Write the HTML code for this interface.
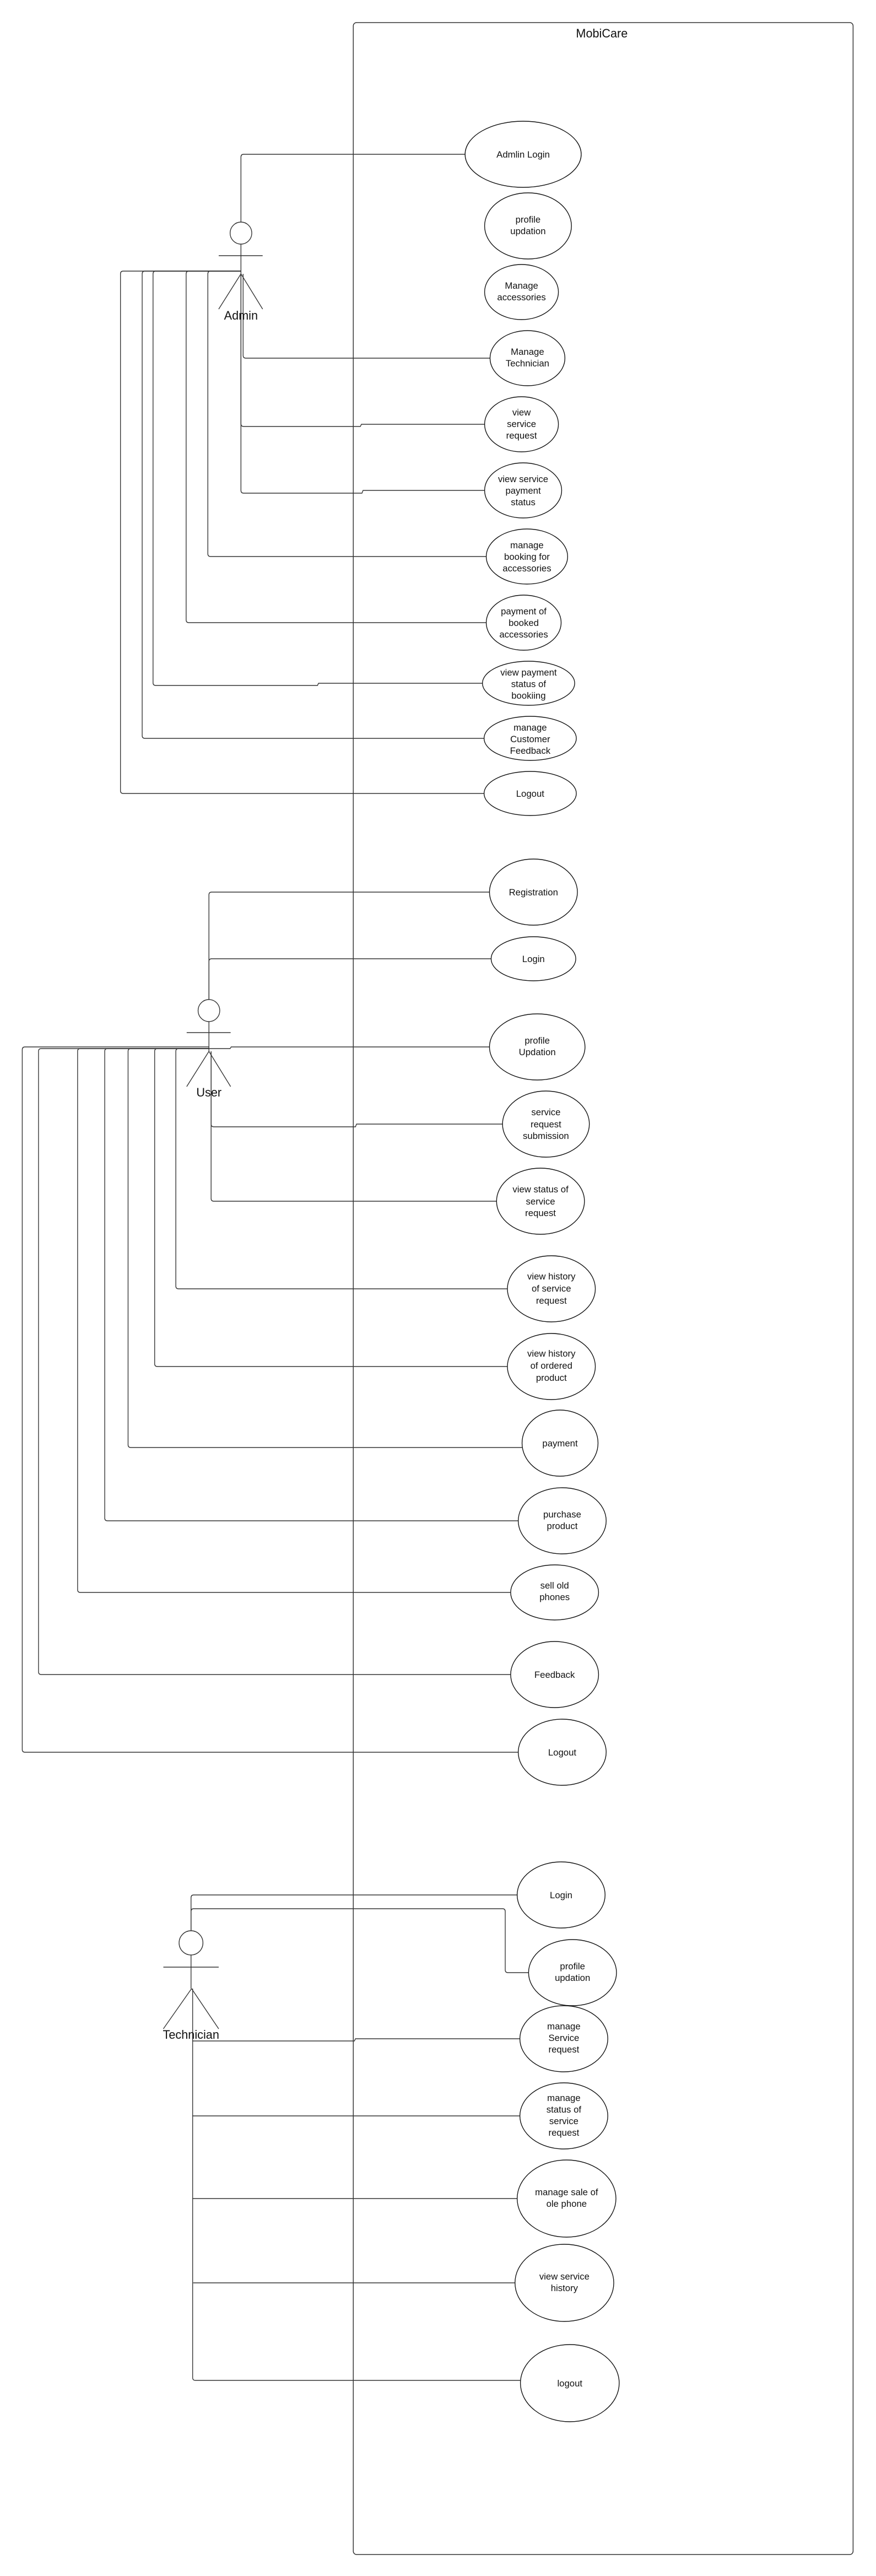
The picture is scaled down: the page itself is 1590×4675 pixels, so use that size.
<!DOCTYPE html>
<html><head><meta charset="utf-8"><style>
html,body{margin:0;padding:0;background:#fff;}
svg{display:block}
text{font-family:"Liberation Sans",sans-serif;font-size:17px;fill:#111;text-anchor:middle}
.t{font-size:22px}
</style></head><body>
<svg width="1590" height="4675" viewBox="0 0 1590 4675" xmlns="http://www.w3.org/2000/svg">
<g transform="scale(0.985 1)">
<rect x="651" y="41" width="921" height="4595" rx="6" fill="none" stroke="#333" stroke-width="1.5"/>
<text class="t" x="1109" y="68">MobiCare</text>

<g fill="none" stroke="#333" stroke-width="1.4">
<circle cx="444" cy="423" r="20"/>
<line x1="444" y1="443" x2="444" y2="497"/>
<line x1="403" y1="464" x2="484" y2="464"/>
<line x1="444" y1="497" x2="403" y2="561"/>
<line x1="444" y1="497" x2="484" y2="561"/>
<path d="M444 403 V285 Q444 280 449 280 H857"/>
<path d="M448 497 V645 Q448 650 453 650 H903"/>
<path d="M444 497 V769 Q444 774 449 774 H664 L666 770 H893"/>
<path d="M444 497 V890 Q444 895 449 895 H667 L669 890 H893"/>
<path d="M444 492 H388 Q383 492 383 497 V1005 Q383 1010 388 1010 H896"/>
<path d="M444 492 H348 Q343 492 343 497 V1125 Q343 1130 348 1130 H896"/>
<path d="M444 492 H287 Q282 492 282 497 V1239 Q282 1244 287 1244 H585 L587 1240 H889"/>
<path d="M444 492 H267 Q262 492 262 497 V1335 Q262 1340 267 1340 H892"/>
<path d="M444 492 H227 Q222 492 222 497 V1435 Q222 1440 227 1440 H892"/>

<circle cx="385" cy="1834" r="20"/>
<line x1="385" y1="1854" x2="385" y2="1908"/>
<line x1="344" y1="1874" x2="425" y2="1874"/>
<line x1="385" y1="1908" x2="344" y2="1972"/>
<line x1="385" y1="1908" x2="425" y2="1972"/>
<path d="M385 1814 V1624 Q385 1619 390 1619 H902"/>
<path d="M385 1814 V1745 Q385 1740 390 1740 H905"/>
<path d="M385 1903 H424 L426 1900 H902"/>
<path d="M389 1908 V2040 Q389 2045 394 2045 H655 L657 2040 H926"/>
<path d="M389 1908 V2175 Q389 2180 394 2180 H915"/>
<path d="M385 1903 H329 Q324 1903 324 1908 V2334 Q324 2339 329 2339 H935"/>
<path d="M385 1903 H290 Q285 1903 285 1908 V2475 Q285 2480 290 2480 H935"/>
<path d="M385 1903 H241 Q236 1903 236 1908 V2622 Q236 2627 241 2627 H962"/>
<path d="M385 1903 H198 Q193 1903 193 1908 V2755 Q193 2760 198 2760 H955"/>
<path d="M385 1903 H148 Q143 1903 143 1908 V2885 Q143 2890 148 2890 H941"/>
<path d="M385 1903 H76 Q71 1903 71 1908 V3034 Q71 3039 76 3039 H941"/>
<path d="M385 1900 H46 Q41 1900 41 1905 V3175 Q41 3180 46 3180 H955"/>

<circle cx="352" cy="3526" r="22"/>
<line x1="352" y1="3548" x2="352" y2="3609"/>
<line x1="301" y1="3570" x2="403" y2="3570"/>
<line x1="353" y1="3609" x2="301" y2="3682"/>
<line x1="353" y1="3609" x2="403" y2="3682"/>
<path d="M352 3504 V3444 Q352 3439 357 3439 H953"/>
<path d="M352 3504 V3469 Q352 3464 357 3464 H926 Q931 3464 931 3469 V3575 Q931 3580 936 3580 H974"/>
<path d="M355 3609 V4315 Q355 4320 360 4320 H959"/>
<path d="M355 3704 H653 L655 3700 H958"/>
<path d="M355 3840 H958"/>
<path d="M355 3990 H953"/>
<path d="M356 4143 H949"/>
</g>

<g fill="#fff" stroke="#111" stroke-width="1.4">
<ellipse cx="964" cy="280" rx="107" ry="60"/>
<ellipse cx="973" cy="410" rx="80" ry="60"/>
<ellipse cx="961" cy="530" rx="68" ry="50"/>
<ellipse cx="972" cy="650" rx="69" ry="50"/>
<ellipse cx="961" cy="770" rx="68" ry="50"/>
<ellipse cx="964" cy="890" rx="71" ry="50"/>
<ellipse cx="971" cy="1010" rx="75" ry="50"/>
<ellipse cx="965" cy="1130" rx="69" ry="50"/>
<ellipse cx="974" cy="1240" rx="85" ry="40"/>
<ellipse cx="977" cy="1340" rx="85" ry="40"/>
<ellipse cx="977" cy="1440" rx="85" ry="40"/>

<ellipse cx="983" cy="1619" rx="81" ry="60"/>
<ellipse cx="983" cy="1740" rx="78" ry="40"/>
<ellipse cx="990" cy="1900" rx="88" ry="60"/>
<ellipse cx="1006" cy="2040" rx="80" ry="60"/>
<ellipse cx="996" cy="2180" rx="81" ry="60"/>
<ellipse cx="1016" cy="2339" rx="81" ry="60"/>
<ellipse cx="1016" cy="2480" rx="81" ry="60"/>
<ellipse cx="1032" cy="2619" rx="70" ry="60"/>
<ellipse cx="1036" cy="2760" rx="81" ry="60"/>
<ellipse cx="1022" cy="2890" rx="81" ry="50"/>
<ellipse cx="1022" cy="3039" rx="81" ry="60"/>
<ellipse cx="1036" cy="3180" rx="81" ry="60"/>

<ellipse cx="1034" cy="3439" rx="81" ry="60"/>
<ellipse cx="1055" cy="3580" rx="81" ry="60"/>
<ellipse cx="1039" cy="3700" rx="81" ry="60"/>
<ellipse cx="1039" cy="3840" rx="81" ry="60"/>
<ellipse cx="1044" cy="3990" rx="91" ry="70"/>
<ellipse cx="1040" cy="4143" rx="91" ry="70"/>
<ellipse cx="1050" cy="4325" rx="91" ry="70"/>
</g>

<g>
<text class="t" x="444" y="580">Admin</text>
<text class="t" x="385" y="1990">User</text>
<text class="t" x="352" y="3700">Technician</text>

<text x="964" y="286">Admlin Login</text>
<text x="973" y="404">profile</text><text x="973" y="425">updation</text>
<text x="961" y="524">Manage</text><text x="961" y="545">accessories</text>
<text x="972" y="644">Manage</text><text x="972" y="665">Technician</text>
<text x="961" y="754">view</text><text x="961" y="775">service</text><text x="961" y="796">request</text>
<text x="964" y="875">view service</text><text x="964" y="896">payment</text><text x="964" y="917">status</text>
<text x="971" y="995">manage</text><text x="971" y="1016">booking for</text><text x="971" y="1037">accessories</text>
<text x="965" y="1115">payment of</text><text x="965" y="1136">booked</text><text x="965" y="1157">accessories</text>
<text x="974" y="1226">view payment</text><text x="974" y="1247">status of</text><text x="974" y="1268">bookiing</text>
<text x="977" y="1326">manage</text><text x="977" y="1347">Customer</text><text x="977" y="1368">Feedback</text>
<text x="977" y="1446">Logout</text>

<text x="983" y="1625">Registration</text>
<text x="983" y="1746">Login</text>
<text x="990" y="1894">profile</text><text x="990" y="1915">Updation</text>
<text x="1006" y="2024">service</text><text x="1006" y="2046">request</text><text x="1006" y="2067">submission</text>
<text x="996" y="2164">view status of</text><text x="996" y="2186">service</text><text x="996" y="2207">request</text>
<text x="1016" y="2322">view history</text><text x="1016" y="2344">of service</text><text x="1016" y="2366">request</text>
<text x="1016" y="2462">view history</text><text x="1016" y="2484">of ordered</text><text x="1016" y="2506">product</text>
<text x="1032" y="2625">payment</text>
<text x="1036" y="2754">purchase</text><text x="1036" y="2775">product</text>
<text x="1022" y="2883">sell old</text><text x="1022" y="2904">phones</text>
<text x="1022" y="3045">Feedback</text>
<text x="1036" y="3186">Logout</text>

<text x="1034" y="3445">Login</text>
<text x="1055" y="3574">profile</text><text x="1055" y="3595">updation</text>
<text x="1039" y="3683">manage</text><text x="1039" y="3704">Service</text><text x="1039" y="3725">request</text>
<text x="1039" y="3813">manage</text><text x="1039" y="3834">status of</text><text x="1039" y="3855">service</text><text x="1039" y="3876">request</text>
<text x="1044" y="3984">manage sale of</text><text x="1044" y="4005">ole phone</text>
<text x="1040" y="4137">view service</text><text x="1040" y="4158">history</text>
<text x="1050" y="4331">logout</text>
</g>
</g>
</svg>
</body></html>
